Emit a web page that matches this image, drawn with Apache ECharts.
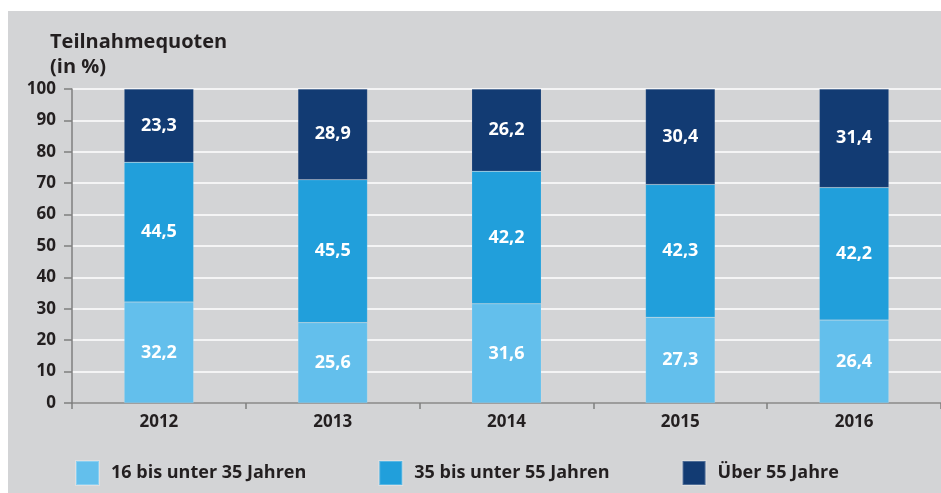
<!DOCTYPE html>
<html>
<head>
<meta charset="utf-8">
<script src="https://cdn.jsdelivr.net/npm/echarts@6/dist/echarts.min.js"></script>
<style>
  html, body { margin: 0; padding: 0; background: #ffffff; }
  #chart { position: absolute; left: 8px; top: 11px; width: 933px; height: 482px; }
</style>
</head>
<body>
<div id="chart"></div>
<script>
// Participation rates by age group, per year (in %)
const years = ['2012', '2013', '2014', '2015', '2016'];
const age16to35 = [32.2, 25.6, 31.6, 27.3, 26.4];
const age35to55 = [44.5, 45.5, 42.2, 42.3, 42.2];
const age55plus = [23.3, 28.9, 26.2, 30.4, 31.4];
const seriesNames = ['16 bis unter 35 Jahren', '35 bis unter 55 Jahren', 'Über 55 Jahre'];
const yTicks = [0, 10, 20, 30, 40, 50, 60, 70, 80, 90, 100];

const FONT = '"Open Sans", "Noto Sans", sans-serif';
const TEXT = '#231f20';
const AXIS = '#7f7f7f';
const colors = ['#63bfec', '#219fdb', '#123b73'];

const chart = echarts.init(document.getElementById('chart'));

function barSeries(name, data, color) {
  return {
    name: name,
    type: 'bar',
    stack: 'total',
    data: data,
    barWidth: '40%',
    itemStyle: { color: color, borderColor: 'rgba(255,255,255,0.25)', borderWidth: 0.5 },
    label: {
      show: true,
      position: 'inside',
      color: '#ffffff',
      fontFamily: FONT,
      fontWeight: 'bold',
      fontSize: 18,
      formatter: p => p.value.toFixed(1).replace('.', ',')
    }
  };
}

chart.setOption({
  backgroundColor: '#d3d4d6',
  animation: false,
  color: colors,
  title: {
    text: 'Teilnahmequoten\n(in %)',
    left: 42,
    top: 19,
    padding: 0,
    textStyle: {
      fontFamily: FONT,
      fontWeight: 'bold',
      fontSize: 20,
      lineHeight: 25,
      color: TEXT
    }
  },
  legend: {
    left: 67,
    top: 449,
    padding: 0,
    itemWidth: 23,
    itemHeight: 24,
    itemGap: 72,
    icon: 'rect',
    textStyle: {
      fontFamily: FONT,
      fontWeight: 'bold',
      fontSize: 18,
      color: TEXT,
      padding: [0, 0, 0, 7]
    },
    data: seriesNames
  },
  grid: { left: 64, right: 0, top: 78, bottom: 90, containLabel: false },
  xAxis: {
    type: 'category',
    data: years,
    axisLine: { lineStyle: { color: AXIS, width: 1.5 } },
    axisTick: { show: true, length: 6, alignWithLabel: false, lineStyle: { color: AXIS, width: 1.5 } },
    axisLabel: {
      margin: 11,
      fontFamily: FONT,
      fontWeight: 'bold',
      fontSize: 17,
      color: TEXT
    }
  },
  yAxis: {
    type: 'value',
    min: yTicks[0],
    max: yTicks[yTicks.length - 1],
    interval: 10,
    axisLine: { show: true, lineStyle: { color: AXIS, width: 1.5 } },
    axisTick: { show: true, length: 8, lineStyle: { color: AXIS, width: 1.5 } },
    splitLine: { show: true, lineStyle: { color: '#ffffff', width: 1.5 } },
    axisLabel: {
      margin: 16,
      fontFamily: FONT,
      fontWeight: 'bold',
      fontSize: 17,
      color: TEXT
    }
  },
  series: [
    barSeries(seriesNames[0], age16to35, colors[0]),
    barSeries(seriesNames[1], age35to55, colors[1]),
    barSeries(seriesNames[2], age55plus, colors[2])
  ]
});
</script>
</body>
</html>
